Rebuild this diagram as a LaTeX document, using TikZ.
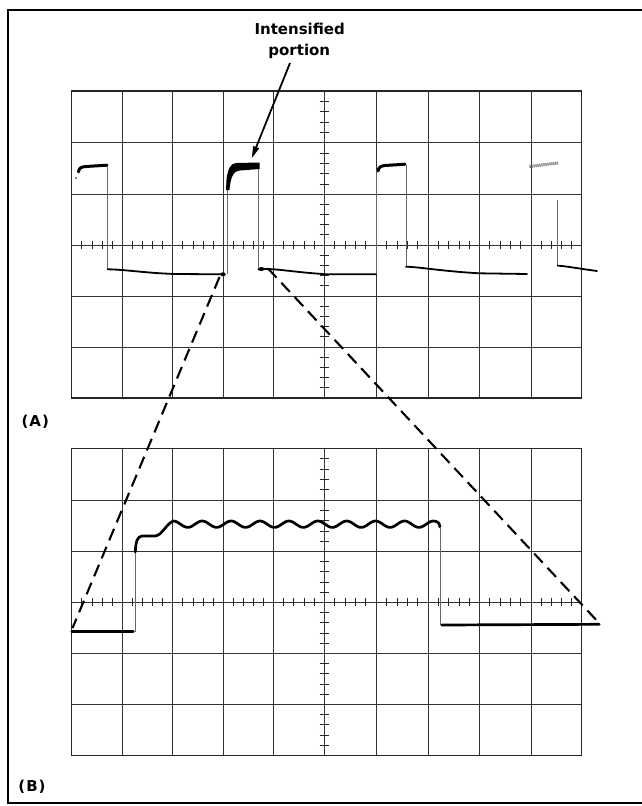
\documentclass[tikz,border=0pt]{standalone}
\usepackage{fontspec}
\setmainfont{DejaVu Sans}
\usetikzlibrary{arrows.meta}
\begin{document}
\begin{tikzpicture}[x=1pt,y=-1pt,
  gridline/.style={line width=0.9pt, black!80},
  border/.style={line width=1.3pt, black!85},
  ticks/.style={line width=0.8pt, black!85},
  trace/.style={line width=2.7pt, black, line cap=round, line join=round},
  thintrace/.style={line width=1.8pt, black, line cap=round, line join=round},
  faint/.style={line width=0.6pt, black!60},
  dashline/.style={line width=2.1pt, black, dash pattern=on 12.5pt off 7pt},
  lbl/.style={font=\fontsize{15}{18}\selectfont\bfseries, inner sep=0pt},
  pointer/.style={line width=1.8pt, -{Triangle[length=12pt,width=6pt]}}
]
\useasboundingbox (0,0) rectangle (641,806);
\fill[white] (0,0) rectangle (641,806);
\draw[line width=2.4pt] (648,10) -- (8,10) -- (8,803) -- (648,803);

% two graticules
\foreach \dy in {0,357.3} {
\begin{scope}[shift={(0,\dy)}]
  \foreach \y in {142.7,194.3,245,296,347}
    \draw[gridline] (71.7,\y) -- (581.7,\y);
  \foreach \x in {122.3,172.7,223.3,273.3,324.3,376,428.3,479.3,531}
    \draw[gridline] (\x,91) -- (\x,398);
  \draw[border] (71.7,91) rectangle (581.7,398);
  \foreach \a/\b in {71.7/122.3,122.3/172.7,172.7/223.3,223.3/273.3,273.3/324.3,324.3/376,376/428.3,428.3/479.3,479.3/531,531/581.7}
    \foreach \k in {1,2,3,4}
      \draw[ticks] ({\a+\k*(\b-\a)/5},241) -- ++(0,8);
  \foreach \a/\b in {91/142.7,142.7/194.3,194.3/245,245/296,296/347,347/398}
    \foreach \k in {1,2,3,4}
      \draw[ticks] (319.8,{\a+\k*(\b-\a)/5}) -- ++(9,0);
\end{scope}
}

% labels
\node[lbl, anchor=base] (t1) at (299.7,34.3) {Intensified};
\node[lbl, anchor=base] (t2) at (299.3,55) {portion};
\node[lbl] (la) at (35.3,421.7) {(\kern1pt A\kern1pt)};
\node[lbl] (lb) at (32,786.7) {(\kern1pt B\kern1pt)};

\coordinate (ps) at (290,63);
\coordinate (pe) at (251.7,158.3);
\draw[pointer] (ps) -- (pe);

% trace A
\fill (76,178) circle (0.9pt);
\draw[trace, line width=3pt] (78.5,172) .. controls (79,168) and (81,166.8) .. (86,166.5) -- (107,165.2);
\draw[faint] (107.7,166) -- (107.7,269);
\draw[thintrace] (107.7,269.3) .. controls (125,269.5) and (145,273) .. (175,274) -- (223,274.3);
\fill (223,274.3) ellipse (2.8pt and 2pt);

\draw[faint] (226.8,274) -- (226.8,188);
\fill (226,190) -- (226.5,180) .. controls (227.5,170) and (230,163.5) .. (236,163) -- (259.5,162.5) -- (259.5,169) -- (240,170.5) .. controls (233,171) and (230.5,178) .. (229.5,190) -- cycle;
\draw[faint] (258.6,169) -- (258.6,269);
\fill (261.5,269) ellipse (3pt and 2pt);
\draw[thintrace] (258.5,269.5) .. controls (272,267.5) and (290,272) .. (326,274.2) -- (376,274.3);

\draw[faint] (376.5,274) -- (376.5,170);
\draw[trace, line width=3pt] (378,171) .. controls (378.5,167.5) and (380.5,166) .. (385,165.5) -- (405,164.2);
\draw[faint] (406.7,165) -- (406.7,266.7);
\draw[thintrace] (406,266.7) .. controls (420,267) and (440,271) .. (479,273.3) -- (527,274);

\draw[line width=3pt, black!55, dash pattern=on 1.2pt off 0.8pt] (529.5,166.5) -- (558,163);
\draw[faint] (557.7,200) -- (557.7,266);
\draw[thintrace] (557.7,265.7) .. controls (565,266) and (575,268) .. (597,271);

% trace B
\draw[trace] (71.7,631.7) -- (133.3,631.7);
\draw[faint] (135,631.7) -- (135,550);
\draw[trace] (135.3,552) .. controls (135.8,541) and (137.5,536.5) .. (142,536) -- (155,536) .. controls (162,535.5) and (166,524) .. (173.3,521);
\draw[trace] plot[domain=173.3:433.3, samples=160] (\x,{524.2-3.2*cos(12.4567*(\x-173.3))});
\draw[trace] (433.3,521) .. controls (437,521) and (439.5,522.5) .. (440,527);
\draw[faint] (440.5,527) -- (440.5,625);
\draw[trace] (441.7,625) -- (599.3,624.3);

% zoom lines
\coordinate (dsA) at (219.5,277);
\coordinate (deA) at (72.5,628);
\coordinate (dsB) at (268,268.5);
\coordinate (deB) at (600,624);
\draw[dashline] (dsA) -- (deA);
\draw[dashline] (dsB) -- (deB);
\end{tikzpicture}
\end{document}
